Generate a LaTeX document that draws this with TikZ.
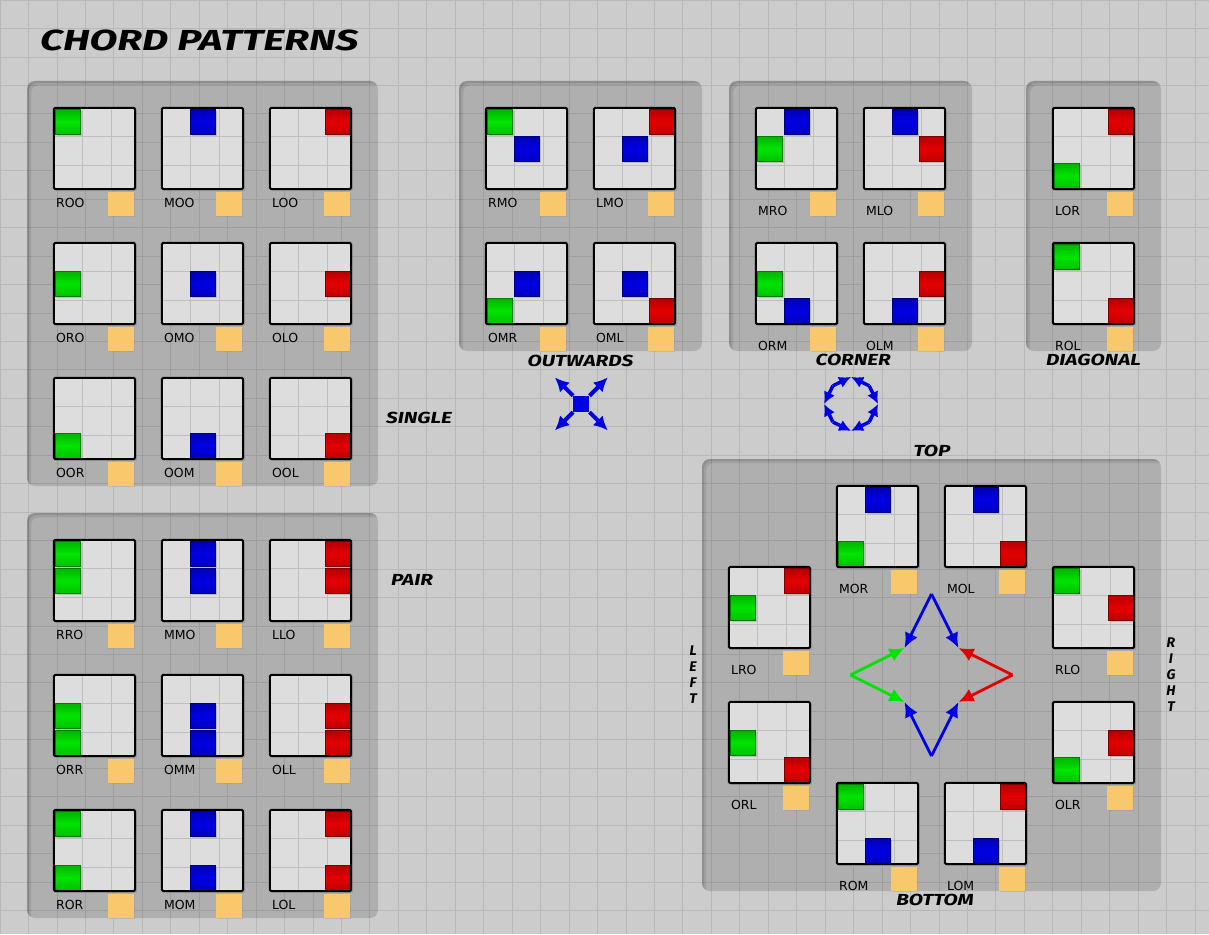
\documentclass[tikz,border=0pt]{standalone}
\usepackage{fontspec}
\usepackage{graphicx}
\setmainfont{DejaVu Sans}
\newfontfamily\handfont{Fira Sans}
\usetikzlibrary{arrows.meta,shadows,calc}

\definecolor{bggray}{RGB}{204,204,204}
\definecolor{gridgray}{RGB}{184,184,184}
\definecolor{cardgray}{RGB}{221,221,221}
\definecolor{cardline}{RGB}{190,190,190}
\definecolor{chordgreen}{RGB}{0,228,0}
\definecolor{chordblue}{RGB}{0,0,228}
\definecolor{chordred}{RGB}{228,0,0}
\definecolor{keyorange}{RGB}{250,200,108}

% one row of a card: R = left (green), M = middle (blue), L = right (red)
\def\chordrow#1#2#3\relax{\chordchip{#1}{0}\chordchip{#2}{1}\chordchip{#3}{2}}
\def\chordchip#1#2{%
  \if R#1\path[chip=chordgreen] (0.04,#2+0.04) rectangle (0.96,#2+0.96);\fi
  \if M#1\path[chip=chordblue] (1.04,#2+0.04) rectangle (1.96,#2+0.96);\fi
  \if L#1\path[chip=chordred] (2.04,#2+0.04) rectangle (2.96,#2+0.96);\fi}
\newcommand\handtext[2][1.3]{\scalebox{#1}[1]{\handfont\bfseries\itshape #2}}

\begin{document}
\begin{tikzpicture}[
	x=27pt,
	y=-27pt,
	gridline/.style={draw=gridgray,line width=0.8pt},
	panel/.style={fill=black,fill opacity=0.14,rounded corners=8pt},
	panelshade/.style={fill=black,fill opacity=0.09,even odd rule,rounded corners=8pt},
	cardbox/.style={fill=cardgray,minimum size=81pt,inner sep=0pt,
		drop shadow={opacity=0.3,shadow xshift=2pt,shadow yshift=-2pt}},
	cardgrid/.style={draw=cardline,line width=0.8pt},
	cardedge/.style={draw=black,line width=2pt,rounded corners=1.5pt},
	chip/.style={draw=#1!55!black,line width=0.6pt,top color=#1!78!black,
		bottom color=#1!85!black,middle color=#1,
		drop shadow={opacity=0.35,shadow xshift=2pt,shadow yshift=-2pt}},
	keybox/.style={fill=keyorange,minimum width=26pt,minimum height=24pt,inner sep=0pt,
		drop shadow={opacity=0.2,shadow xshift=1pt,shadow yshift=-1pt}},
	cardlabel/.style={anchor=west,inner sep=0pt,font=\fontsize{12.5}{14}\selectfont},
	grouplabel/.style={inner sep=0pt,font=\fontsize{16}{18}\selectfont},
	stack/.style={inner sep=0pt,align=center,font=\fontsize{14}{16}\selectfont\handfont\bfseries\itshape},
	star/.style={line width=2.8pt,-{Latex[length=15pt,width=14pt]}},
	iconarrow/.style={draw=chordblue,line width=4pt,-{Latex[length=14pt,width=14pt]}},
	ringarrow/.style={draw=chordblue,line width=3.5pt,-{Latex[length=12pt,width=12pt]}}
	]
	\useasboundingbox (0,0) rectangle (44.778,34.593);
	\fill[bggray] (0,0) rectangle (44.778,34.593);
	\draw[gridline] (0,0) grid (44.778,34.593);

	% panels
	\foreach \px/\py/\qx/\qy in {1/3/14/18,1/19/14/34,17/3/26/13,27/3/36/13,38/3/43/13,26/17/43/33}{
		\fill[panel] (\px,\py) rectangle (\qx,\qy);
		\begin{scope}
			\clip[rounded corners=8pt] (\px,\py) rectangle (\qx,\qy);
			\fill[panelshade] (\px-1,\py-1) rectangle (\qx+1,\qy+1) (\px+0.07,\py+0.07) rectangle (\qx+1,\qy+1);
			\fill[panelshade] (\px-1,\py-1) rectangle (\qx+1,\qy+1) (\px+0.15,\py+0.15) rectangle (\qx+1,\qy+1);
		\end{scope}
	}

	\node[anchor=west,inner sep=0pt,font=\fontsize{29}{32}\selectfont] (title) at (1.48,1.48) {\handtext[1.4]{CHORD PATTERNS}};

	% cards: code / grid x / grid y / label offset
	\foreach \code/\cx/\cy/\ly in {
		ROO/2/4/0.5,MOO/6/4/0.5,LOO/10/4/0.5,
		ORO/2/9/0.5,OMO/6/9/0.5,OLO/10/9/0.5,
		OOR/2/14/0.5,OOM/6/14/0.5,OOL/10/14/0.5,
		RRO/2/20/0.5,MMO/6/20/0.5,LLO/10/20/0.5,
		ORR/2/25/0.5,OMM/6/25/0.5,OLL/10/25/0.5,
		ROR/2/30/0.5,MOM/6/30/0.5,LOL/10/30/0.5,
		RMO/18/4/0.5,LMO/22/4/0.5,OMR/18/9/0.5,OML/22/9/0.5,
		MRO/28/4/0.8,MLO/32/4/0.8,ORM/28/9/0.8,OLM/32/9/0.8,
		LOR/39/4/0.8,ROL/39/9/0.8,
		MOR/31/18/0.8,MOL/35/18/0.8,LRO/27/21/0.8,RLO/39/21/0.8,
		ORL/27/26/0.8,OLR/39/26/0.8,ROM/31/29/0.8,LOM/35/29/0.8}{
		\begin{scope}[shift={(\cx,\cy)}]
			\node[cardbox] (\code) at (1.5,1.5) {};
			\draw[cardgrid] (0,0) grid (3,3);
			\expandafter\chordrow\code\relax
			\draw[cardedge] (\code.north west) rectangle (\code.south east);
			\node[cardlabel] (\code-name) at (0.07,3+\ly) {\code};
			\node[keybox] (\code-key) at (2.48,3.56) {};
		\end{scope}
	}

	% group labels
	\node[grouplabel] (lbl-single) at (15.52,15.48) {\handtext{SINGLE}};
	\node[grouplabel] (lbl-pair) at (15.26,21.48) {\handtext{PAIR}};
	\node[grouplabel] (lbl-outwards) at (21.5,13.37) {\handtext{OUTWARDS}};
	\node[grouplabel] (lbl-corner) at (31.6,13.33) {\handtext{CORNER}};
	\node[grouplabel] (lbl-diagonal) at (40.5,13.33) {\handtext{DIAGONAL}};
	\node[grouplabel] (lbl-top) at (34.52,16.7) {\handtext{TOP}};
	\node[grouplabel] (lbl-bottom) at (34.63,33.33) {\handtext{BOTTOM}};
	\node[stack] (lbl-left) at (25.67,25) {L\\E\\F\\T};
	\node[stack] (lbl-right) at (43.37,25) {R\\I\\G\\H\\T};

	% outwards icon
	\node[fill=chordblue,minimum size=16pt,inner sep=0pt] (out-core) at (21.53,14.96) {};
	\foreach \dx/\dy [count=\i] in {-1/-1,1/-1,-1/1,1/1}{
		\coordinate (out-\i) at ($(out-core)+(0.98*\dx,0.98*\dy)$);
		\draw[iconarrow] (out-core) -- (out-\i);
	}

	% corner icon
	\coordinate (ring) at (31.52,14.96);
	\foreach \a in {0,90,180,270}{
		\coordinate (ring-c\a) at ($(ring)+(\a:1)$);
		\coordinate (ring-d\a) at ($(ring)+(\a+45:0.95)$);
	}
	\foreach \a/\b in {0/0,0/90,90/90,90/180,180/180,180/270,270/270,270/0}{
		\draw[ringarrow] (ring-d\a) -- (ring-c\b);
	}

	% star in the big panel
	\coordinate (s-top) at (34.5,22);
	\coordinate (s-bot) at (34.5,28);
	\coordinate (s-left) at (31.5,25);
	\coordinate (s-right) at (37.5,25);
	\coordinate (s-nw) at (33.5,24);
	\coordinate (s-ne) at (35.5,24);
	\coordinate (s-sw) at (33.5,26);
	\coordinate (s-se) at (35.5,26);
	\draw[star,chordblue] (s-top) -- (s-nw);
	\draw[star,chordblue] (s-top) -- (s-ne);
	\draw[star,chordblue] (s-bot) -- (s-sw);
	\draw[star,chordblue] (s-bot) -- (s-se);
	\draw[star,chordgreen] (s-left) -- (s-nw);
	\draw[star,chordgreen] (s-left) -- (s-sw);
	\draw[star,chordred] (s-right) -- (s-ne);
	\draw[star,chordred] (s-right) -- (s-se);
\end{tikzpicture}
\end{document}
